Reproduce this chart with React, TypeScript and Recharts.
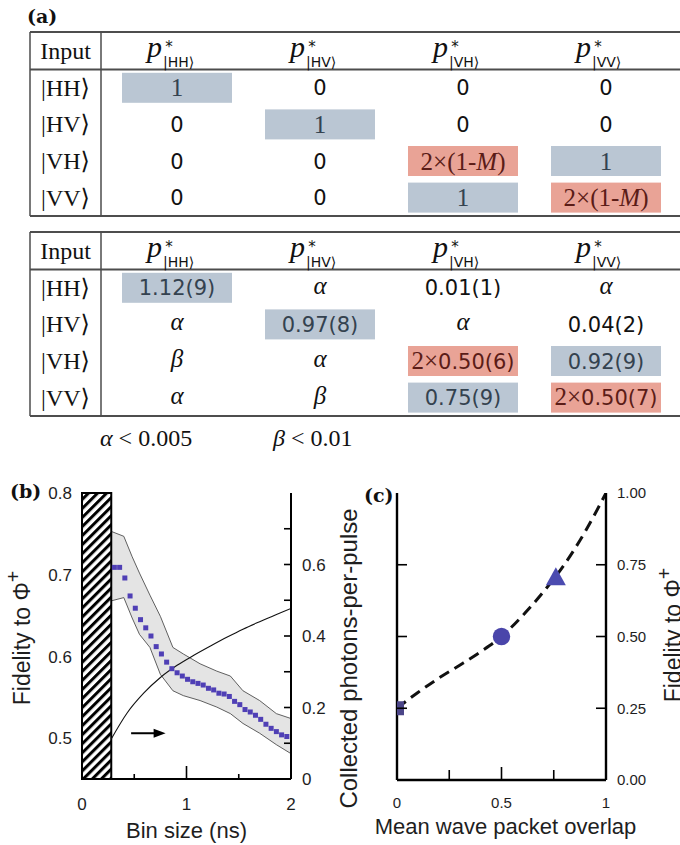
import React from 'react';
import {
  Area,
  ComposedChart,
  Label,
  Line,
  ReferenceArea,
  ReferenceLine,
  Scatter,
  XAxis,
  YAxis,
} from 'recharts';

const SANS = "'Liberation Sans', Arial, sans-serif";
const SERIF = "'Liberation Serif', 'DejaVu Serif', serif";
const NUM = "'DejaVu Sans', sans-serif";
const BOLD_SERIF = "'DejaVu Serif', serif";

// ---- (a) tables ----
const kets = ['|HH⟩', '|HV⟩', '|VH⟩', '|VV⟩'];
const idealProbs = [
  ['1', '0', '0', '0'],
  ['0', '1', '0', '0'],
  ['0', '0', '2×(1-M)', '1'],
  ['0', '0', '1', '2×(1-M)'],
];
const measuredProbs = [
  ['1.12(9)', 'α', '0.01(1)', 'α'],
  ['α', '0.97(8)', 'α', '0.04(2)'],
  ['β', 'α', '2×0.50(6)', '0.92(9)'],
  ['α', 'β', '0.75(9)', '2×0.50(7)'],
];
// b = blue (expected), r = red (HOM suppressed)
const highlight = [
  ['b', '', '', ''],
  ['', 'b', '', ''],
  ['', '', 'r', 'b'],
  ['', '', 'b', 'r'],
];
const footAlpha = ['α', '0.005'];
const footBeta = ['β', '0.01'];

// ---- (b) fidelity vs bin size ----
const binSize = [
  0.31, 0.36, 0.41, 0.46, 0.51, 0.56, 0.61, 0.66, 0.71, 0.76, 0.81, 0.86,
  0.91, 0.96, 1.01, 1.06, 1.11, 1.16, 1.21, 1.26, 1.31, 1.36, 1.41, 1.46,
  1.51, 1.56, 1.61, 1.66, 1.71, 1.76, 1.81, 1.86, 1.91, 1.96,
];
const fidelity = [
  0.709, 0.709, 0.696, 0.674, 0.659, 0.645, 0.635, 0.625, 0.612, 0.603, 0.593,
  0.585, 0.58, 0.576, 0.572, 0.569, 0.567, 0.565, 0.561, 0.559, 0.555, 0.554,
  0.551, 0.545, 0.541, 0.535, 0.532, 0.528, 0.523, 0.517, 0.512, 0.508, 0.504,
  0.502,
];
const bandBin = [
  0.28, 0.4, 0.48, 0.55, 0.65, 0.75, 0.87, 0.97, 1.13, 1.29, 1.42, 1.54, 1.7,
  1.86, 2.0,
];
const bandHigh = [
  0.753, 0.747, 0.722, 0.702, 0.675, 0.649, 0.611, 0.603, 0.591, 0.582, 0.576,
  0.558, 0.546, 0.53, 0.524,
];
const bandLow = [
  0.668, 0.672, 0.647, 0.627, 0.611, 0.578, 0.558, 0.552, 0.546, 0.538, 0.53,
  0.518, 0.506, 0.492, 0.481,
];
const rateBin = [0.28, 0.43, 0.59, 0.75, 0.91, 1.07, 1.23, 1.39, 1.54, 1.7, 1.85, 2.0];
const rate = [0.112, 0.184, 0.24, 0.284, 0.318, 0.346, 0.372, 0.397, 0.419, 0.44, 0.459, 0.477];
const excludedBin = [0, 0.28];
const arrowBin = [0.47, 0.8];
const arrowFid = 0.506;

// ---- (c) fidelity vs overlap ----
const overlapX = [0, 0.1, 0.2, 0.3, 0.4, 0.5, 0.6, 0.7, 0.8, 0.9, 1.0];
const overlapFid = [0.25, 0.305, 0.355, 0.4, 0.447, 0.5, 0.572, 0.655, 0.75, 0.865, 1.0];
const markerOverlap = [0, 0.5, 0.76];
const markerFid = [0.25, 0.5, 0.71];

const fidPoints = binSize.map((x, i) => ({ x, y: fidelity[i] }));
const bandPoints = bandBin.map((x, i) => ({ x, lo: bandLow[i], hi: bandHigh[i] }));
const ratePoints = rateBin.map((x, i) => ({ x, y: rate[i] }));
const curvePoints = overlapX.map((x, i) => ({ x, y: overlapFid[i] }));
const markerPoints = markerOverlap.map((x, i) => [{ x, y: markerFid[i] }]);

const BLUE_BOX = '#bac6d3';
const RED_BOX = '#e9a396';
const colX = [177, 320, 463, 606];

function Cell({ text, cx, cy, kind }: { text: string; cx: number; cy: number; kind: string }) {
  const fill = kind === 'b' ? '#34424f' : kind === 'r' ? '#5b1c17' : '#111';
  if (text === 'α' || text === 'β')
    return (
      <text x={cx} y={cy + 6} textAnchor="middle" fontFamily={SERIF} fontStyle="italic" fontSize={25} fill={fill}>
        {text}
      </text>
    );
  if (text === '1')
    return (
      <text x={cx} y={cy + 8.5} textAnchor="middle" fontFamily={SERIF} fontSize={25} fill={fill}>
        1
      </text>
    );
  if (text.startsWith('2×(')) {
    return (
      <text x={cx} y={cy + 8.5} textAnchor="middle" fontFamily={SERIF} fontSize={25} fill={fill}>
        2×(1-<tspan fontStyle="italic">M</tspan>)
      </text>
    );
  }
  if (text.startsWith('2×')) {
    return (
      <text x={cx} y={cy + 7.5} textAnchor="middle" fill={fill}>
        <tspan fontFamily={SERIF} fontSize={25}>2×</tspan>
        <tspan fontFamily={NUM} fontSize={21}>{text.slice(2)}</tspan>
      </text>
    );
  }
  return (
    <text x={cx} y={cy + 7.5} textAnchor="middle" fontFamily={NUM} fontSize={21} fill={fill}>
      {text}
    </text>
  );
}

function ProbTable({ top, values }: { top: number; values: string[][] }) {
  const headH = 37.5;
  const rowH = 36.6;
  const hy = top + headH / 2;
  const rowY = kets.map((_, i) => top + headH + rowH * (i + 0.5));
  const bottom = top + headH + rowH * 4;
  const line = '#4d4d4d';
  return (
    <g>
      {values.map((row, r) =>
        row.map((_, c) =>
          highlight[r][c] ? (
            <rect
              key={`h${r}${c}`}
              x={colX[c] - 55}
              y={rowY[r] - 15}
              width={110}
              height={30}
              fill={highlight[r][c] === 'b' ? BLUE_BOX : RED_BOX}
            />
          ) : null,
        ),
      )}
      <line x1={30} x2={690} y1={top} y2={top} stroke={line} strokeWidth={2} />
      <line x1={30} x2={690} y1={top + headH} y2={top + headH} stroke={line} strokeWidth={2} />
      <line x1={30} x2={690} y1={bottom} y2={bottom} stroke={line} strokeWidth={2} />
      <line x1={30} x2={30} y1={top} y2={bottom} stroke={line} strokeWidth={1.5} />
      <line x1={101} x2={101} y1={top} y2={bottom} stroke={line} strokeWidth={1.5} />
      <text x={65.5} y={hy + 8} textAnchor="middle" fontFamily={SERIF} fontSize={24} fill="#111">
        Input
      </text>
      {kets.map((k, c) => (
        <g key={`p${c}`}>
          <text x={colX[c] - 30} y={hy + 6} fontFamily={SERIF} fontStyle="italic" fontSize={30} fill="#111">
            p
          </text>
          <text x={colX[c] - 8} y={hy + 1} textAnchor="middle" fontFamily={NUM} fontSize={15} fill="#111">
            *
          </text>
          <text x={colX[c] - 14} y={hy + 16} fontFamily={NUM} fontSize={14} fill="#111">
            {k}
          </text>
        </g>
      ))}
      {kets.map((k, r) => (
        <text key={`k${r}`} x={65.5} y={rowY[r] + 8} textAnchor="middle" fontFamily={SERIF} fontSize={24} fill="#111">
          {k}
        </text>
      ))}
      {values.map((row, r) =>
        row.map((v, c) => <Cell key={`c${r}${c}`} text={v} cx={colX[c]} cy={rowY[r]} kind={highlight[r][c]} />),
      )}
    </g>
  );
}

type Side = 'bottom' | 'top' | 'left' | 'right';
function axisTick(side: Side, len: (v: number) => number, label: (v: number) => string, fs: number, gap: number) {
  return (p: any) => {
    const v = p.payload.value;
    const l = len(v);
    const t = label(v);
    const tp = { fontFamily: SANS, fontSize: fs, fill: '#1e1e1e' };
    if (side === 'bottom')
      return (
        <g>
          {l > 0 && <line x1={p.x} x2={p.x} y1={p.y} y2={p.y - l} stroke="#000" strokeWidth={1.6} />}
          {t && <text x={p.x} y={p.y + gap} textAnchor="middle" {...tp}>{t}</text>}
        </g>
      );
    if (side === 'top')
      return <g>{l > 0 && <line x1={p.x} x2={p.x} y1={p.y} y2={p.y + l} stroke="#000" strokeWidth={1.6} />}</g>;
    if (side === 'left')
      return (
        <g>
          {l > 0 && <line x1={p.x} x2={p.x + l} y1={p.y} y2={p.y} stroke="#000" strokeWidth={1.6} />}
          {t && <text x={p.x - gap} y={p.y} dy="0.36em" textAnchor="end" {...tp}>{t}</text>}
        </g>
      );
    return (
      <g>
        {l > 0 && <line x1={p.x} x2={p.x - l} y1={p.y} y2={p.y} stroke="#000" strokeWidth={1.6} />}
        {t && <text x={p.x + gap} y={p.y} dy="0.36em" textAnchor="start" {...tp}>{t}</text>}
      </g>
    );
  };
}

const rotLabel = (dx: number, dy: number, fs: number) => (p: any) => {
  const vb = p.viewBox;
  const x = vb.x + dx;
  const y = vb.y + vb.height / 2 + dy;
  return (
    <text x={x} y={y} transform={`rotate(-90 ${x} ${y})`} textAnchor="middle" fontFamily={SANS} fontSize={fs} fill="#1e1e1e">
      <tspan>Fidelity to Φ</tspan>
      <tspan dy="-0.5em" fontSize="0.85em">+</tspan>
    </text>
  );
};

const bottomLabel = (text: string, dx: number, base: number, fs: number) => (p: any) => {
  const vb = p.viewBox;
  return (
    <text x={vb.x + vb.width / 2 + dx} y={vb.y + base} textAnchor="middle" fontFamily={SANS} fontSize={fs} fill="#1e1e1e">
      {text}
    </text>
  );
};

const arrowShape = (p: any) => (
  <g>
    <line x1={p.x1} y1={p.y1} x2={p.x2 - 8} y2={p.y2} stroke="#000" strokeWidth={2} />
    <polygon points={`${p.x2},${p.y2} ${p.x2 - 12},${p.y2 - 4.5} ${p.x2 - 12},${p.y2 + 4.5}`} fill="#000" />
  </g>
);

const squareDot = (size: number, color: string) => (p: any) => (
  <rect x={p.cx - size / 2} y={p.cy - size / 2} width={size} height={size} fill={color} />
);
const circleDot = (r: number, color: string) => (p: any) => <circle cx={p.cx} cy={p.cy} r={r} fill={color} />;
const triangleDot = (w: number, h: number, color: string) => (p: any) => (
  <polygon
    points={`${p.cx},${p.cy - h / 2} ${p.cx - w / 2},${p.cy + h / 2} ${p.cx + w / 2},${p.cy + h / 2}`}
    fill={color}
  />
);

const axisLine = { stroke: '#000', strokeWidth: 2 };

function BinSizeChart() {
  return (
    <ComposedChart width={340} height={365} margin={{ top: 13, right: 0, bottom: 0, left: 0 }}>
      <defs>
        <pattern id="hatchB" width="6.4" height="6.4" patternUnits="userSpaceOnUse" patternTransform="rotate(45)">
          <rect width="6.4" height="6.4" fill="#fff" />
          <rect width="3" height="6.4" fill="#000" />
        </pattern>
      </defs>
      <XAxis
        dataKey="x"
        type="number"
        domain={[0, 2]}
        ticks={[0, 0.5, 1, 1.5, 2]}
        interval={0}
        height={66}
        allowDataOverflow
        axisLine={axisLine}
        tickLine={false}
        tickSize={0}
        tickMargin={0}
        tick={axisTick('bottom', (v) => (v === 1 ? 13 : v === 0.5 || v === 1.5 ? 5 : 0), (v) => (Number.isInteger(v) ? String(v) : ''), 17, 31)}
      >
        <Label content={bottomLabel('Bin size (ns)', 0, 59, 22)} />
      </XAxis>
      <XAxis
        xAxisId="top"
        orientation="top"
        dataKey="x"
        type="number"
        domain={[0, 2]}
        ticks={[1]}
        height={0}
        allowDataOverflow
        axisLine={axisLine}
        tickLine={false}
        tickSize={0}
        tickMargin={0}
        tick={axisTick('top', (v) => (v === 1 ? 7 : 0), () => '', 17, 0)}
      />
      <YAxis
        yAxisId="left"
        type="number"
        domain={[0.45, 0.8]}
        ticks={[0.5, 0.6, 0.7, 0.8]}
        interval={0}
        width={82}
        allowDataOverflow
        axisLine={axisLine}
        tickLine={false}
        tickSize={0}
        tickMargin={0}
        tick={axisTick('left', () => 0, (v) => v.toFixed(1), 17, 10)}
      >
        <Label content={rotLabel(30, 2, 23)} />
      </YAxis>
      <YAxis
        yAxisId="right"
        orientation="right"
        type="number"
        domain={[0, 0.8]}
        ticks={[0, 0.1, 0.2, 0.3, 0.4, 0.5, 0.6, 0.7, 0.8]}
        interval={0}
        width={49}
        allowDataOverflow
        axisLine={axisLine}
        tickLine={false}
        tickSize={0}
        tickMargin={0}
        tick={axisTick(
          'right',
          (v) => (v > 0.05 && v < 0.75 ? 7 : 0),
          (v) => (v === 0 ? '0' : [0.2, 0.4, 0.6].includes(v) ? v.toFixed(1) : ''),
          17,
          11,
        )}
      />
      <Area
        yAxisId="left"
        data={bandPoints}
        dataKey={(d: any) => [d.lo, d.hi]}
        type="linear"
        fill="#e4e4e4"
        fillOpacity={1}
        stroke="#3a3a3a"
        strokeWidth={0.8}
        isAnimationActive={false}
      />
      <Line
        yAxisId="right"
        data={ratePoints}
        dataKey="y"
        type="monotone"
        stroke="#111"
        strokeWidth={1.1}
        dot={false}
        isAnimationActive={false}
      />
      <Scatter yAxisId="left" data={fidPoints} dataKey="y" fill="#4f3fb5" shape={squareDot(5, '#4f3fb5')} isAnimationActive={false} />
      <ReferenceArea
        yAxisId="left"
        x1={excludedBin[0]}
        x2={excludedBin[1]}
        fill="url(#hatchB)"
        fillOpacity={1}
        stroke="#000"
        strokeWidth={2}
      />
      <ReferenceLine
        yAxisId="left"
        segment={[
          { x: arrowBin[0], y: arrowFid },
          { x: arrowBin[1], y: arrowFid },
        ]}
        shape={arrowShape}
      />
    </ComposedChart>
  );
}

function OverlapChart() {
  const inner = (v: number) => (v === 0.25 || v === 0.5 || v === 0.75 ? 10 : 0);
  const frame = { stroke: '#000', strokeWidth: 2.4 };
  return (
    <ComposedChart width={350} height={365} margin={{ top: 13, right: 0, bottom: 0, left: 0 }}>
      <XAxis
        dataKey="x"
        type="number"
        domain={[0, 1]}
        ticks={[0, 0.25, 0.5, 0.75, 1]}
        interval={0}
        height={65}
        allowDataOverflow
        axisLine={frame}
        tickLine={false}
        tickSize={0}
        tickMargin={0}
        tick={axisTick('bottom', (v) => (v === 0.5 ? 13 : inner(v)), (v) => (v === 0 ? '0' : v === 0.5 ? '0.5' : v === 1 ? '1' : ''), 15, 28)}
      >
        <Label content={bottomLabel('Mean wave packet overlap', 4, 54, 22)} />
      </XAxis>
      <XAxis
        xAxisId="top"
        orientation="top"
        dataKey="x"
        type="number"
        domain={[0, 1]}
        ticks={[0.5]}
        height={0}
        allowDataOverflow
        axisLine={frame}
        tickLine={false}
        tickSize={0}
        tickMargin={0}
        tick={axisTick('top', (v) => (v === 0.5 ? 7 : 0), () => '', 15, 0)}
      />
      <YAxis
        yAxisId="left"
        type="number"
        domain={[0, 1]}
        ticks={[0, 0.25, 0.5, 0.75, 1]}
        interval={0}
        width={67}
        allowDataOverflow
        axisLine={false}
        tickLine={false}
        tickSize={0}
        tickMargin={0}
        tick={axisTick('left', inner, () => '', 15, 0)}
      >
        <Label
          content={(p: any) => {
            const vb = p.viewBox;
            const x = vb.x + 27;
            const y = vb.y + vb.height / 2 + 22;
            return (
              <text x={x} y={y} transform={`rotate(-90 ${x} ${y})`} textAnchor="middle" fontFamily={SANS} fontSize={24} fill="#1e1e1e">
                Collected photons-per-pulse
              </text>
            );
          }}
        />
      </YAxis>
      <YAxis
        yAxisId="right"
        orientation="right"
        type="number"
        domain={[0, 1]}
        ticks={[0, 0.25, 0.5, 0.75, 1]}
        interval={0}
        width={74}
        allowDataOverflow
        axisLine={frame}
        tickLine={false}
        tickSize={0}
        tickMargin={0}
        tick={axisTick('right', inner, (v) => v.toFixed(2), 15, 11)}
      >
        <Label content={rotLabel(75, -1.5, 23)} />
      </YAxis>
      <ReferenceLine yAxisId="right" x={0} stroke="#000" strokeWidth={2.4} />
      <Line
        yAxisId="right"
        data={curvePoints}
        dataKey="y"
        type="monotone"
        stroke="#111"
        strokeWidth={3}
        strokeDasharray="11 6.5"
        dot={false}
        isAnimationActive={false}
      />
      <Scatter yAxisId="right" data={markerPoints[0]} dataKey="y" shape={squareDot(14, '#4b4588')} isAnimationActive={false} />
      <Scatter yAxisId="right" data={markerPoints[1]} dataKey="y" shape={circleDot(8.7, '#4a45aa')} isAnimationActive={false} />
      <Scatter yAxisId="right" data={markerPoints[2]} dataKey="y" shape={triangleDot(20, 18, '#4b4bb0')} isAnimationActive={false} />
    </ComposedChart>
  );
}

export default function App() {
  return (
    <div style={{ position: 'absolute', left: 0, top: 0, width: 680, height: 845, background: '#fff', overflow: 'hidden' }}>
      <svg width={680} height={470} style={{ position: 'absolute', left: 0, top: 0 }}>
        <text x={27} y={23} fontFamily={BOLD_SERIF} fontWeight="bold" fontSize={19} fill="#111">
          (a)
        </text>
        <ProbTable top={32} values={idealProbs} />
        <ProbTable top={232} values={measuredProbs} />
        <text x={100} y={446} fontFamily={SERIF} fontSize={24} fill="#111">
          <tspan fontStyle="italic">{footAlpha[0]}</tspan>
          <tspan dx={6}>&lt;</tspan>
          <tspan dx={6}>{footAlpha[1]}</tspan>
        </text>
        <text x={273} y={446} fontFamily={SERIF} fontSize={24} fill="#111">
          <tspan fontStyle="italic">{footBeta[0]}</tspan>
          <tspan dx={6}>&lt;</tspan>
          <tspan dx={6}>{footBeta[1]}</tspan>
        </text>
      </svg>
      <div style={{ position: 'absolute', left: 0, top: 480 }}>
        <BinSizeChart />
      </div>
      <div style={{ position: 'absolute', left: 330, top: 480 }}>
        <OverlapChart />
      </div>
      <svg width={680} height={845} style={{ position: 'absolute', left: 0, top: 0, pointerEvents: 'none' }}>
        <text x={10} y={498} fontFamily={BOLD_SERIF} fontWeight="bold" fontSize={19} fill="#111">
          (b)
        </text>
        <text x={364} y={502} fontFamily={BOLD_SERIF} fontWeight="bold" fontSize={19} fill="#111">
          (c)
        </text>
      </svg>
    </div>
  );
}
